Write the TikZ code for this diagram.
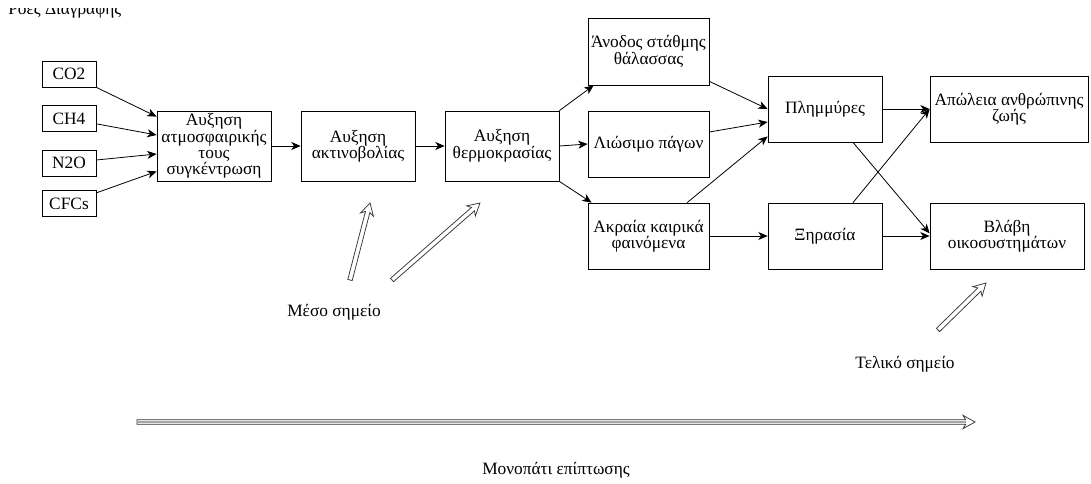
\documentclass[tikz,border=0pt]{standalone}
\usepackage{fontspec}
\setmainfont{Liberation Serif}
\usetikzlibrary{arrows.meta,calc}
\newcommand{\hollowarr}[3]{% #1 start, #2 end, #3 shaft fill
  \coordinate (#1B) at ($(#2)!7pt!(#1)$);
  \coordinate (#1C) at ($(#2)!9pt!(#1)$);
  \draw[hollowline, fill=#3]
    ($(#1)!1.7pt!90:(#2)$) -- ($(#1B)!1.7pt!90:(#2)$) -- ($(#1C)!5pt!90:(#2)$) -- (#2)
    -- ($(#1C)!5pt!-90:(#2)$) -- ($(#1B)!1.7pt!-90:(#2)$) -- ($(#1)!1.7pt!-90:(#2)$) -- cycle;
}
\begin{document}
\tikzset{
  box/.style={draw, line width=0.6pt, align=center, inner sep=1pt, font=\fontsize{13}{12.3}\selectfont},
  wh/.style 2 args={minimum width=#1*0.75pt, minimum height=#2*0.75pt},
  arr/.style={-{Stealth[length=7pt,width=6pt,inset=2pt]}, line width=0.6pt},
  hollowline/.style={line width=0.55pt, draw=black!80, line join=miter},
  lbl/.style={font=\fontsize{13}{14}\selectfont, inner sep=0pt}
}
\begin{tikzpicture}[x=0.75pt,y=-0.75pt]
\useasboundingbox (0,0) rectangle (1091,484);
% title (cut off at the top)
\begin{scope}
  \clip (0,9) rectangle (200,30);
  \node[lbl, anchor=base west] (title) at (8,15) {Ροές Διαγραφής};
\end{scope}
% sources
\node[box, wh={54}{26}] (co2) at (69,74) {CO2};
\node[box, wh={54}{26}] (ch4) at (69,118.5) {CH4};
\node[box, wh={54}{26}] (n2o) at (69,163) {N2O};
\node[box, wh={54}{26}] (cfc) at (69,203.5) {CFCs};
% chain
\node[box, wh={114}{70}] (atm) at (214,146) {Αυξηση\\ατμοσφαιρικής\\τους\\συγκέντρωση};
\node[box, wh={114}{70}] (akt) at (358,146) {Αυξηση\\ακτινοβολίας};
\node[box, wh={114}{70}] (therm) at (502,146) {Αυξηση\\θερμοκρασίας};
\node[box, wh={121}{67}] (anod) at (648.5,51.5) {Άνοδος στάθμης\\θάλασσας};
\node[box, wh={121}{66}] (lios) at (648.5,144) {Λιώσιμο πάγων};
\node[box, wh={121}{66}] (akr) at (648.5,236) {Ακραία καιρικά\\φαινόμενα};
\node[box, wh={114}{66}] (plim) at (825,109) {Πλημμύρες};
\node[box, wh={114}{66}] (xir) at (825,236) {Ξηρασία};
\node[box, wh={158}{66}] (apol) at (1009,109) {Απώλεια ανθρώπινης\\ζωής};
\node[box, wh={154}{66}] (vlavi) at (1007,236) {Βλάβη\\οικοσυστημάτων};
% labels
\node[lbl] (meso) at (334,312) {Μέσο σημείο};
\node[lbl] (teliko) at (905,364) {Τελικό σημείο};
\node[lbl] (monop) at (556,470) {Μονοπάτι επίπτωσης};
% connectors
\draw[arr] (co2.south east) -- ([yshift=-4.5pt]atm.north west);
\draw[arr] ([yshift=-4pt]ch4.east) -- ([yshift=8.25pt]atm.west);
\draw[arr] ([yshift=2.25pt]n2o.east) -- ([yshift=-6pt]atm.west);
\draw[arr] ([yshift=8pt]cfc.east) -- ([yshift=7.5pt]atm.south west);
\draw[arr] (atm.east) -- (akt.west);
\draw[arr] (akt.east) -- (therm.west);
\draw[arr] (therm.north east) -- ([xshift=4.5pt]anod.south west);
\draw[arr] (therm.east) -- (lios.west);
\draw[arr] (therm.south east) -- ([xshift=3pt]akr.north west);
\draw[arr] ([yshift=3pt]anod.south east) -- (plim.west);
\draw[arr] ([yshift=9pt]lios.east) -- ([yshift=-9.75pt]plim.west);
\draw[arr] ([xshift=29pt]akr.north) -- ([yshift=4.5pt]plim.south west);
\draw[arr] (akr.east) -- (xir.west);
\draw[arr] (plim.east) -- (apol.west);
\draw[arr] ([xshift=21pt]plim.south) -- ([yshift=2pt]vlavi.west);
\draw[arr] ([xshift=21pt]xir.north) -- (apol.west);
\draw[arr] (xir.east) -- (vlavi.west);
% hollow arrows
\coordinate (h1s) at (350,280); \coordinate (h1e) at (370,203);
\coordinate (h2s) at (392,280); \coordinate (h2e) at (480,203);
\coordinate (h3s) at (938,330); \coordinate (h3e) at (986,283);
\coordinate (h4s) at (137,422); \coordinate (h4e) at (975,422);
\hollowarr{h1s}{h1e}{white}
\hollowarr{h2s}{h2e}{white}
\hollowarr{h3s}{h3e}{white}
\hollowarr{h4s}{h4e}{white}
\draw[gray!70, line width=1.6pt] (h4s) -- (h4sB);
\end{tikzpicture}
\end{document}
